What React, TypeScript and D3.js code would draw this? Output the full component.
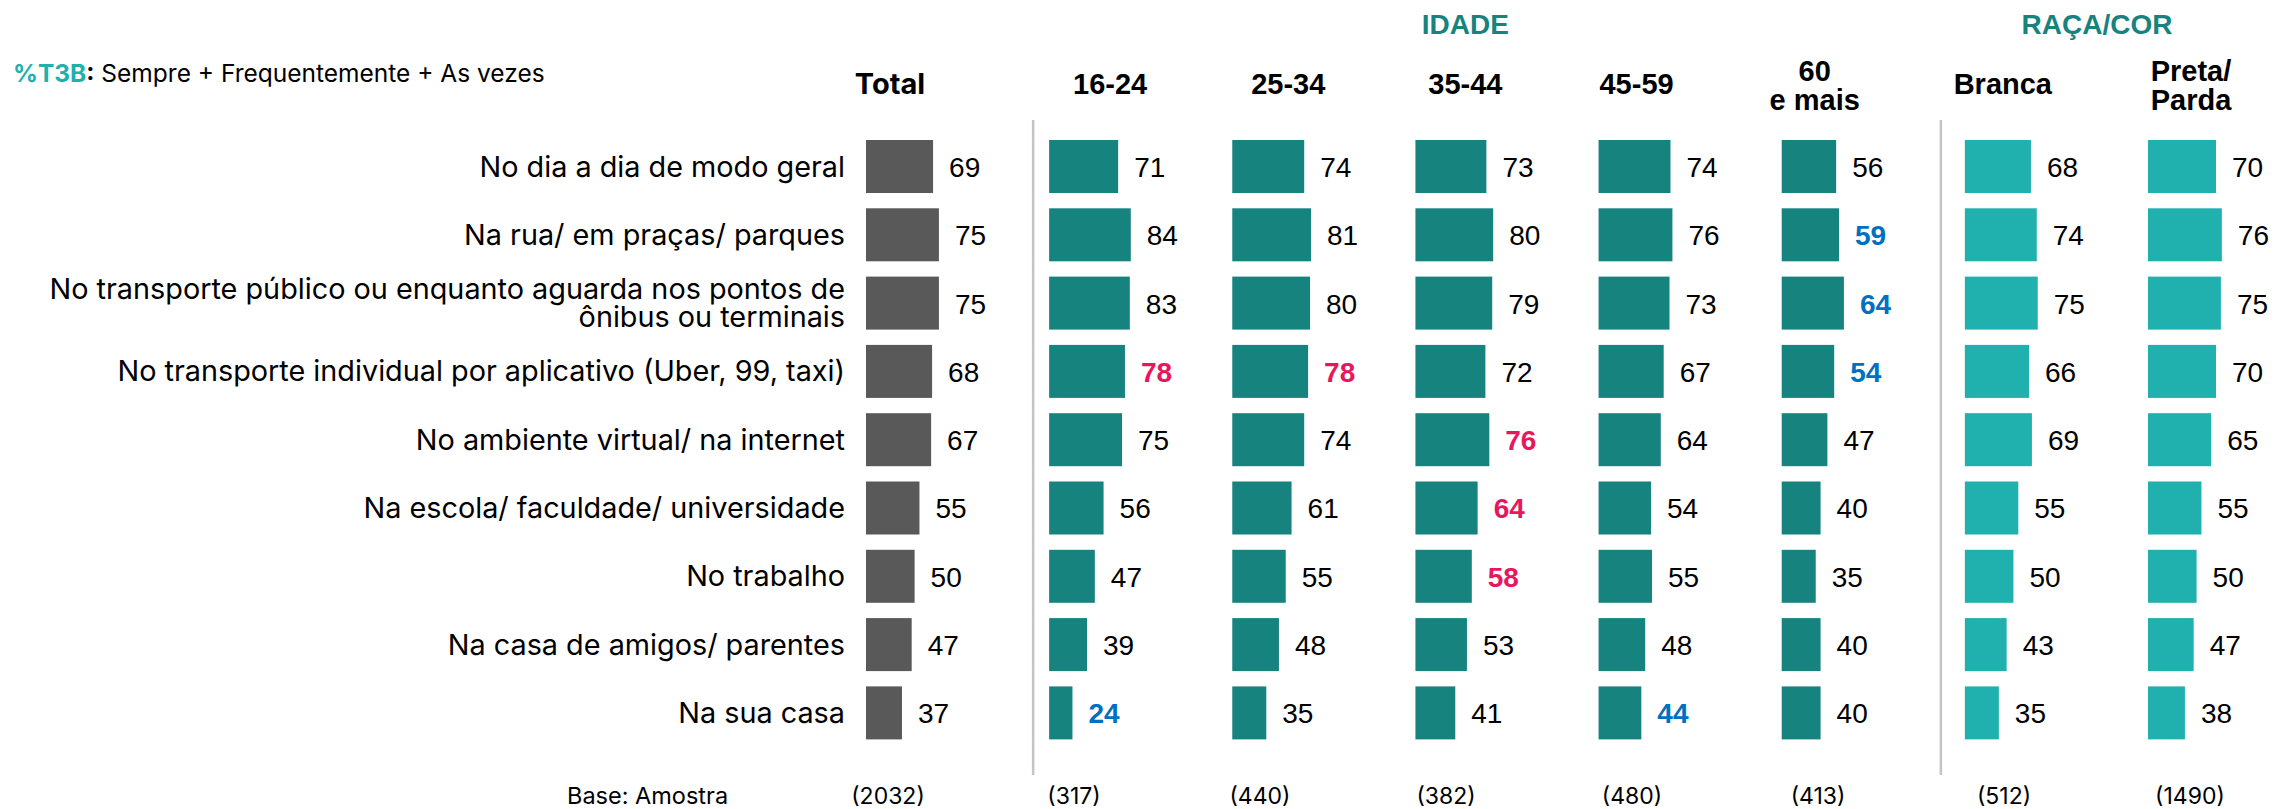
import React from 'react'
import * as d3 from 'd3'

// rows (categories)
const categories = [
  ['No dia a dia de modo geral'],
  ['Na rua/ em praças/ parques'],
  ['No transporte público ou enquanto aguarda nos pontos de', 'ônibus ou terminais'],
  ['No transporte individual por aplicativo (Uber, 99, taxi)'],
  ['No ambiente virtual/ na internet'],
  ['Na escola/ faculdade/ universidade'],
  ['No trabalho'],
  ['Na casa de amigos/ parentes'],
  ['Na sua casa'],
]

const columns = ['Total', '16-24', '25-34', '35-44', '45-59', '60 e mais', 'Branca', 'Preta/Parda']
const headerLines = [['Total'], ['16-24'], ['25-34'], ['35-44'], ['45-59'], ['60', 'e mais'], ['Branca'], ['Preta/', 'Parda']]
const groups = ['total', 'idade', 'idade', 'idade', 'idade', 'idade', 'raca', 'raca']
const bases = ['(2032)', '(317)', '(440)', '(382)', '(480)', '(413)', '(512)', '(1490)']

const total = [69, 75, 75, 68, 67, 55, 50, 47, 37]
const age1624 = [71, 84, 83, 78, 75, 56, 47, 39, 24]
const age2534 = [74, 81, 80, 78, 74, 61, 55, 48, 35]
const age3544 = [73, 80, 79, 72, 76, 64, 58, 53, 41]
const age4559 = [74, 76, 73, 67, 64, 54, 55, 48, 44]
const age60 = [56, 59, 64, 54, 47, 40, 35, 40, 40]
const branca = [68, 74, 75, 66, 69, 55, 50, 43, 35]
const pretaParda = [70, 76, 75, 70, 65, 55, 50, 47, 38]
const series = [total, age1624, age2534, age3544, age4559, age60, branca, pretaParda]

// significance: '+' above total, '-' below total
const sig1624 = ['', '', '', '+', '', '', '', '', '-']
const sig2534 = ['', '', '', '+', '', '', '', '', '']
const sig3544 = ['', '', '', '', '+', '+', '+', '', '']
const sig4559 = ['', '', '', '', '', '', '', '', '-']
const sig60 = ['', '-', '-', '-', '', '', '', '', '']
const none = ['', '', '', '', '', '', '', '', '']
const sigs = [none, sig1624, sig2534, sig3544, sig4559, sig60, none, none]

const W = 2277
const H = 809
const aptos = 'Inter, "Noto Sans", sans-serif'
const arial = '"Liberation Sans", Arial, sans-serif'

const barColor: Record<string, string> = { total: '#595959', idade: '#17837f', raca: '#20b0ad' }
const sigColor: Record<string, string> = { '+': '#e8175d', '-': '#0070c0' }

export default function App() {
  const y = d3.scaleBand<number>()
    .domain(d3.range(categories.length))
    .range([140, 739.4])
    .paddingInner(0.224)
    .paddingOuter(0)

  const x = d3.scaleBand<string>()
    .domain(columns)
    .range([866, 866 + columns.length * 183.14])

  const w = d3.scaleLinear().domain([0, 100]).range([0, 97.2])

  const baseX = d3.scaleLinear().domain([0, columns.length - 1]).range([888, 2190])
  const headerDx = [24, 61, 56, 50, 38, 33, 38, 43]

  return (
    <svg width={W} height={H} style={{ position: 'absolute', left: 0, top: 0, background: '#fff' }}>
      <text x={13} y={82} fontFamily={aptos} fontSize={24.5}>
        <tspan fill="#20b0ad" fontWeight={700}>%T3B</tspan>
        <tspan fontWeight={700}>:</tspan>
        <tspan> Sempre + Frequentemente + As vezes</tspan>
      </text>

      <text x={x('35-44')! + headerDx[3]} y={34} textAnchor="middle" fontFamily={arial} fontWeight={700} fontSize={28} fill="#17837f">IDADE</text>
      <text x={2097} y={34} textAnchor="middle" fontFamily={arial} fontWeight={700} fontSize={28} fill="#17837f">RAÇA/COR</text>

      {headerLines.map((lines, i) => {
        const cx = x(columns[i])! + headerDx[i]
        const font = i === 0 ? aptos : arial
        return lines.map((t, j) => (
          <text key={`h${i}${j}`} x={cx} y={lines.length === 1 ? 94 : 81 + j * 29}
            textAnchor="middle" fontFamily={font} fontWeight={700} fontSize={29}>{t}</text>
        ))
      })}

      {/* separators */}
      <line x1={x('16-24')! - 16} x2={x('16-24')! - 16} y1={120} y2={775} stroke="#c4c4c4" strokeWidth={2.5} />
      <line x1={x('Branca')! - 24} x2={x('Branca')! - 24} y1={120} y2={775} stroke="#c4c4c4" strokeWidth={2.5} />

      {categories.map((lines, r) => {
        const cy = y(r)! + y.bandwidth() / 2
        return lines.map((t, j) => (
          <text key={`c${r}${j}`} x={845} y={cy + 10 + (j - (lines.length - 1) / 2) * 28}
            textAnchor="end" fontFamily={aptos} fontSize={28.8}>{t}</text>
        ))
      })}

      {series.map((vals, c) => (
        <g key={columns[c]}>
          {vals.map((v, r) => {
            const x0 = x(columns[c])!
            const s = sigs[c][r]
            return (
              <g key={r}>
                <rect x={x0} y={y(r)} width={w(v)} height={y.bandwidth()} fill={barColor[groups[c]]} />
                <text x={x0 + w(v) + 16} y={y(r)! + y.bandwidth() / 2 + 10.5}
                  fontFamily={arial} fontSize={28}
                  fontWeight={s ? 700 : 400} fill={s ? sigColor[s] : '#000'}>{v}</text>
              </g>
            )
          })}
        </g>
      ))}

      <text x={567} y={804} fontFamily={aptos} fontSize={23.5}>Base: Amostra</text>
      {bases.map((b, i) => (
        <text key={b} x={baseX(i)} y={804} textAnchor="middle" fontFamily={aptos} fontSize={23}>{b}</text>
      ))}
    </svg>
  )
}
